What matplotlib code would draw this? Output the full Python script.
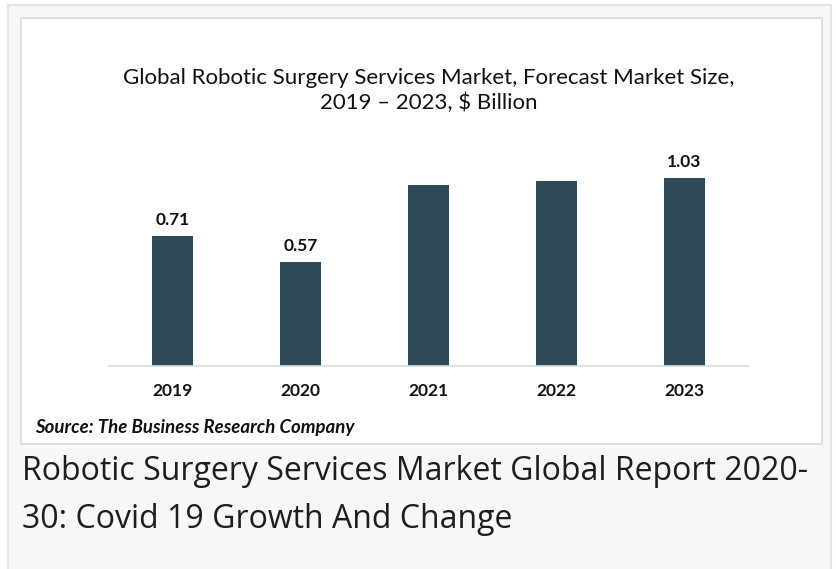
import matplotlib
matplotlib.use("Agg")
import matplotlib.pyplot as plt
import matplotlib.patches as patches

# data
years = ["2019", "2020", "2021", "2022", "2023"]
market_size = [0.71, 0.57, 0.99, 1.01, 1.03]
value_labels = ["0.71", "0.57", None, None, "1.03"]

title_text = "Global Robotic Surgery Services Market, Forecast Market Size,\n2019 \u2013 2023, $ Billion"
source_text = "Source: The Business Research Company"
caption_text = "Robotic Surgery Services Market Global Report 2020-\n30: Covid 19 Growth And Change"

W, H = 836, 569
BAR_COLOR = "#2e4a59"
CHART_FONT = "Lato"

fig = plt.figure(figsize=(W / 100, H / 100), dpi=100)
fig.patch.set_facecolor("white")


def px_box(x0, y0, x1, y1, **kw):
    # rectangle in pixel coords (origin top-left)
    return patches.Rectangle((x0 / W, 1 - y1 / H), (x1 - x0) / W, (y1 - y0) / H,
                             transform=fig.transFigure, **kw)


# page background and white chart card (behind the axes)
fig.patches.append(px_box(8, 5, 831, 575, facecolor="#f7f7f7", edgecolor="#e3e3e3",
                          linewidth=1.5, zorder=-3))
fig.patches.append(px_box(21, 18, 822, 444, facecolor="white", edgecolor="#dadada",
                          linewidth=1.2, zorder=-2))

# axes: baseline at y=366px, 182.8 px per unit
ax_h = 1.2 * 182.8
ax = fig.add_axes([109 / W, 1 - 366 / H, 639 / W, ax_h / H])
ax.set_facecolor("none")

x = range(len(years))
ax.bar(x, market_size, width=0.32, color=BAR_COLOR)
ax.set_xlim(-0.5, len(years) - 0.5)
ax.set_ylim(0, 1.2)

for xi, val, lab in zip(x, market_size, value_labels):
    if lab is None:
        continue
    ax.annotate(lab, (xi, val), xytext=(0, 8), textcoords="offset points",
                ha="center", va="baseline", fontsize=12.5, fontweight="bold",
                family=CHART_FONT, color="#111111")

ax.set_xticks(list(x))
ax.set_xticklabels(years, fontsize=12.5, fontweight="bold", family=CHART_FONT, color="#111111")
ax.tick_params(axis="x", length=0, pad=12.5)
ax.set_yticks([])
for side in ["left", "right", "top"]:
    ax.spines[side].set_visible(False)
ax.spines["bottom"].set_color("#d9d9d9")
ax.spines["bottom"].set_linewidth(1.2)

# title (baseline of last line)
fig.text(428.5 / W, 1 - 109 / H, title_text, ha="center", va="baseline",
         fontsize=16, family=CHART_FONT, color="#111111", linespacing=1.3,
         multialignment="center")

# source
fig.text(35 / W, 1 - 433 / H, source_text, ha="left", va="baseline",
         fontsize=13.4, fontweight="bold", style="italic", family=CHART_FONT, color="#111111")

# caption below the card (baseline of last line)
fig.text(22 / W, 1 - 528 / H, caption_text, ha="left", va="baseline",
         fontsize=23, family="Open Sans", color="#1e1e1e", linespacing=1.6)

fig.savefig("out.png", dpi=100)
